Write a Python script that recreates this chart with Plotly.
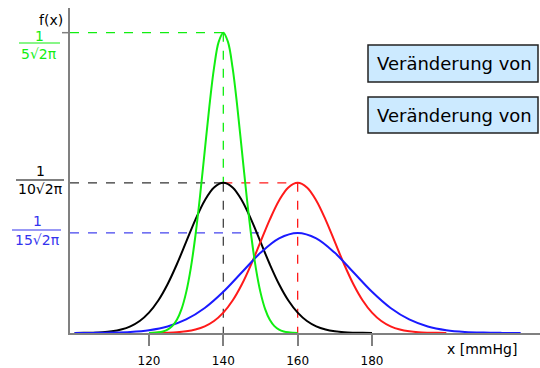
import plotly.graph_objects as go

# ---- data ----
x_green = [120, 121.25, 122.5, 123.75, 125, 126.25, 127.5, 128.75, 130, 131.25, 132.5, 133.75,
           135, 136.25, 137.5, 138.75, 140, 141.25, 142.5, 143.75, 145, 146.25, 147.5, 148.75,
           150, 151.25, 152.5, 153.75, 155, 156.25, 157.5, 158.75, 160]
y_green = [0.0000267, 0.0000705, 0.000174, 0.000406, 0.000886, 0.001819, 0.003506, 0.006348,
           0.010798, 0.017255, 0.025904, 0.036530, 0.048394, 0.060227, 0.070413, 0.077333,
           0.079788,
           0.077333, 0.070413, 0.060227, 0.048394, 0.036530, 0.025904, 0.017255, 0.010798,
           0.006348, 0.003506, 0.001819, 0.000886, 0.000406, 0.000174, 0.0000705, 0.0000267]

x_black = [100, 102.5, 105, 107.5, 110, 112.5, 115, 117.5, 120, 122.5, 125, 127.5, 130, 132.5,
           135, 137.5, 140, 142.5, 145, 147.5, 150, 152.5, 155, 157.5, 160, 162.5, 165, 167.5,
           170, 172.5, 175, 177.5, 180]
y_black = [0.0000134, 0.0000353, 0.0000872, 0.000203, 0.000443, 0.000909, 0.001753, 0.003174,
           0.005399, 0.008628, 0.012952, 0.018265, 0.024197, 0.030114, 0.035207, 0.038667,
           0.039894,
           0.038667, 0.035207, 0.030114, 0.024197, 0.018265, 0.012952, 0.008628, 0.005399,
           0.003174, 0.001753, 0.000909, 0.000443, 0.000203, 0.0000872, 0.0000353, 0.0000134]

x_red = [120, 122.5, 125, 127.5, 130, 132.5, 135, 137.5, 140, 142.5, 145, 147.5, 150, 152.5,
         155, 157.5, 160, 162.5, 165, 167.5, 170, 172.5, 175, 177.5, 180, 182.5, 185, 187.5,
         190, 192.5, 195, 197.5, 200]
y_red = y_black

x_blue = [100, 105, 110, 115, 120, 125, 130, 135, 140, 145, 150, 155, 160,
          165, 170, 175, 180, 185, 190, 195, 200, 205, 210, 215, 220]
y_blue = [0.0000089, 0.0000320, 0.000103, 0.000295, 0.000760, 0.001748, 0.003599, 0.006632,
          0.010934, 0.016131, 0.021296, 0.025159, 0.026596,
          0.025159, 0.021296, 0.016131, 0.010934, 0.006632, 0.003599, 0.001748, 0.000760,
          0.000295, 0.000103, 0.0000320, 0.0000089]

means = {"green": 140, "black": 140, "red": 160, "blue": 160}
tick_vals = [120, 140, 160, 180]
tick_text = ["120", "140", "160", "180"]
box_texts = ["Veränderung von", "Veränderung von"]

C_GREEN = "#11ee11"
C_BLACK = "#000000"
C_RED = "#ff1a1a"
C_BLUE = "#1a1aff"
AXIS = "#808080"
FONT = "DejaVu Sans"

W, H = 540, 368
L, T, B = 70, 8, 35
PW, PH = W - L, H - T - B


def px(xp):
    return (xp - L) / PW


def py(yp):
    return (H - B - yp) / PH


fig = go.Figure()
for xs, ys, c in [(x_black, y_black, C_BLACK), (x_red, y_red, C_RED),
                  (x_blue, y_blue, C_BLUE), (x_green, y_green, C_GREEN)]:
    fig.add_trace(go.Scatter(x=xs, y=ys, mode="lines", line=dict(color=c, width=2, shape="spline"),
                             hoverinfo="skip", showlegend=False))

pg, pb, pbl = max(y_green), max(y_black), max(y_blue)
pr = max(y_red)
shapes = []


def dline(x0, y0, x1, y1, color, xref="x"):
    shapes.append(dict(type="line", xref=xref, yref="y", x0=x0, y0=y0, x1=x1, y1=y1,
                       line=dict(color=color, width=1.3, dash="dash"), layer="below"))


xmin = 98.75
dline(xmin, pg, means["green"], pg, C_GREEN)
dline(means["green"], pg, means["green"], pb, C_GREEN)
dline(xmin, pb, means["black"], pb, "#333333")
dline(means["black"], pb, means["black"], 0, "#444444")
dline(means["black"], pr, means["red"], pr, C_RED)
dline(means["red"], pr, means["red"], 0, C_RED)
dline(xmin, pbl, 152, pbl, "#4444ee")

# small tick on y axis at the green peak
shapes.append(dict(type="line", xref="paper", yref="y", x0=px(62), x1=px(70), y0=pg, y1=pg,
                   line=dict(color=AXIS, width=1.5)))

# fraction bars
for x0, x1, yp, c in [(19, 60, 43, C_GREEN), (16, 64, 180, C_BLACK), (12, 61, 230, "#3333ee")]:
    shapes.append(dict(type="line", xref="paper", yref="paper", x0=px(x0), x1=px(x1),
                       y0=py(yp), y1=py(yp), line=dict(color=c, width=1.2)))

# boxes
for y0, y1 in [(45, 82), (97, 133)]:
    shapes.append(dict(type="rect", xref="paper", yref="paper", x0=px(368), x1=px(538),
                       y0=py(y1), y1=py(y0), fillcolor="#cceaff",
                       line=dict(color="#222222", width=1.5)))

ann = []


def text(t, xp, yp, color="#000000", size=14, xanchor="center"):
    ann.append(dict(text=t, xref="paper", yref="paper", x=px(xp), y=py(yp), showarrow=False,
                    xanchor=xanchor, yanchor="middle", font=dict(family=FONT, size=size, color=color)))


text("f(x)", 51, 20)
text("1", 39, 36, C_GREEN)
text("5√2π", 39, 54, C_GREEN)
text("1", 40, 171)
text("10√2π", 40, 189)
text("1", 37, 221, "#3333ee")
text("15√2π", 37, 240, "#3333ee")
text("x [mmHg]", 482, 349)
text(box_texts[0], 375, 64, size=18, xanchor="left")
text(box_texts[1], 375, 115, size=18, xanchor="left")

fig.update_layout(
    width=W, height=H, margin=dict(l=L, r=0, t=T, b=B),
    plot_bgcolor="white", paper_bgcolor="white",
    shapes=shapes, annotations=ann,
    xaxis=dict(range=[xmin, 225.2], showgrid=False, zeroline=False, showline=True,
               linecolor=AXIS, linewidth=2, ticks="outside", ticklen=11, tickwidth=2,
               tickcolor=AXIS, tickvals=tick_vals, ticktext=tick_text, ticklabelstandoff=5,
               tickfont=dict(family=FONT, size=12, color="#000000")),
    yaxis=dict(range=[0, PH / 3764], showgrid=False, zeroline=False, showline=True,
               linecolor=AXIS, linewidth=2, showticklabels=False, ticks=""),
)

fig.write_html("out.html", config={"displayModeBar": False},
               post_script="document.body.style.margin='0';document.body.style.overflow='hidden';")
